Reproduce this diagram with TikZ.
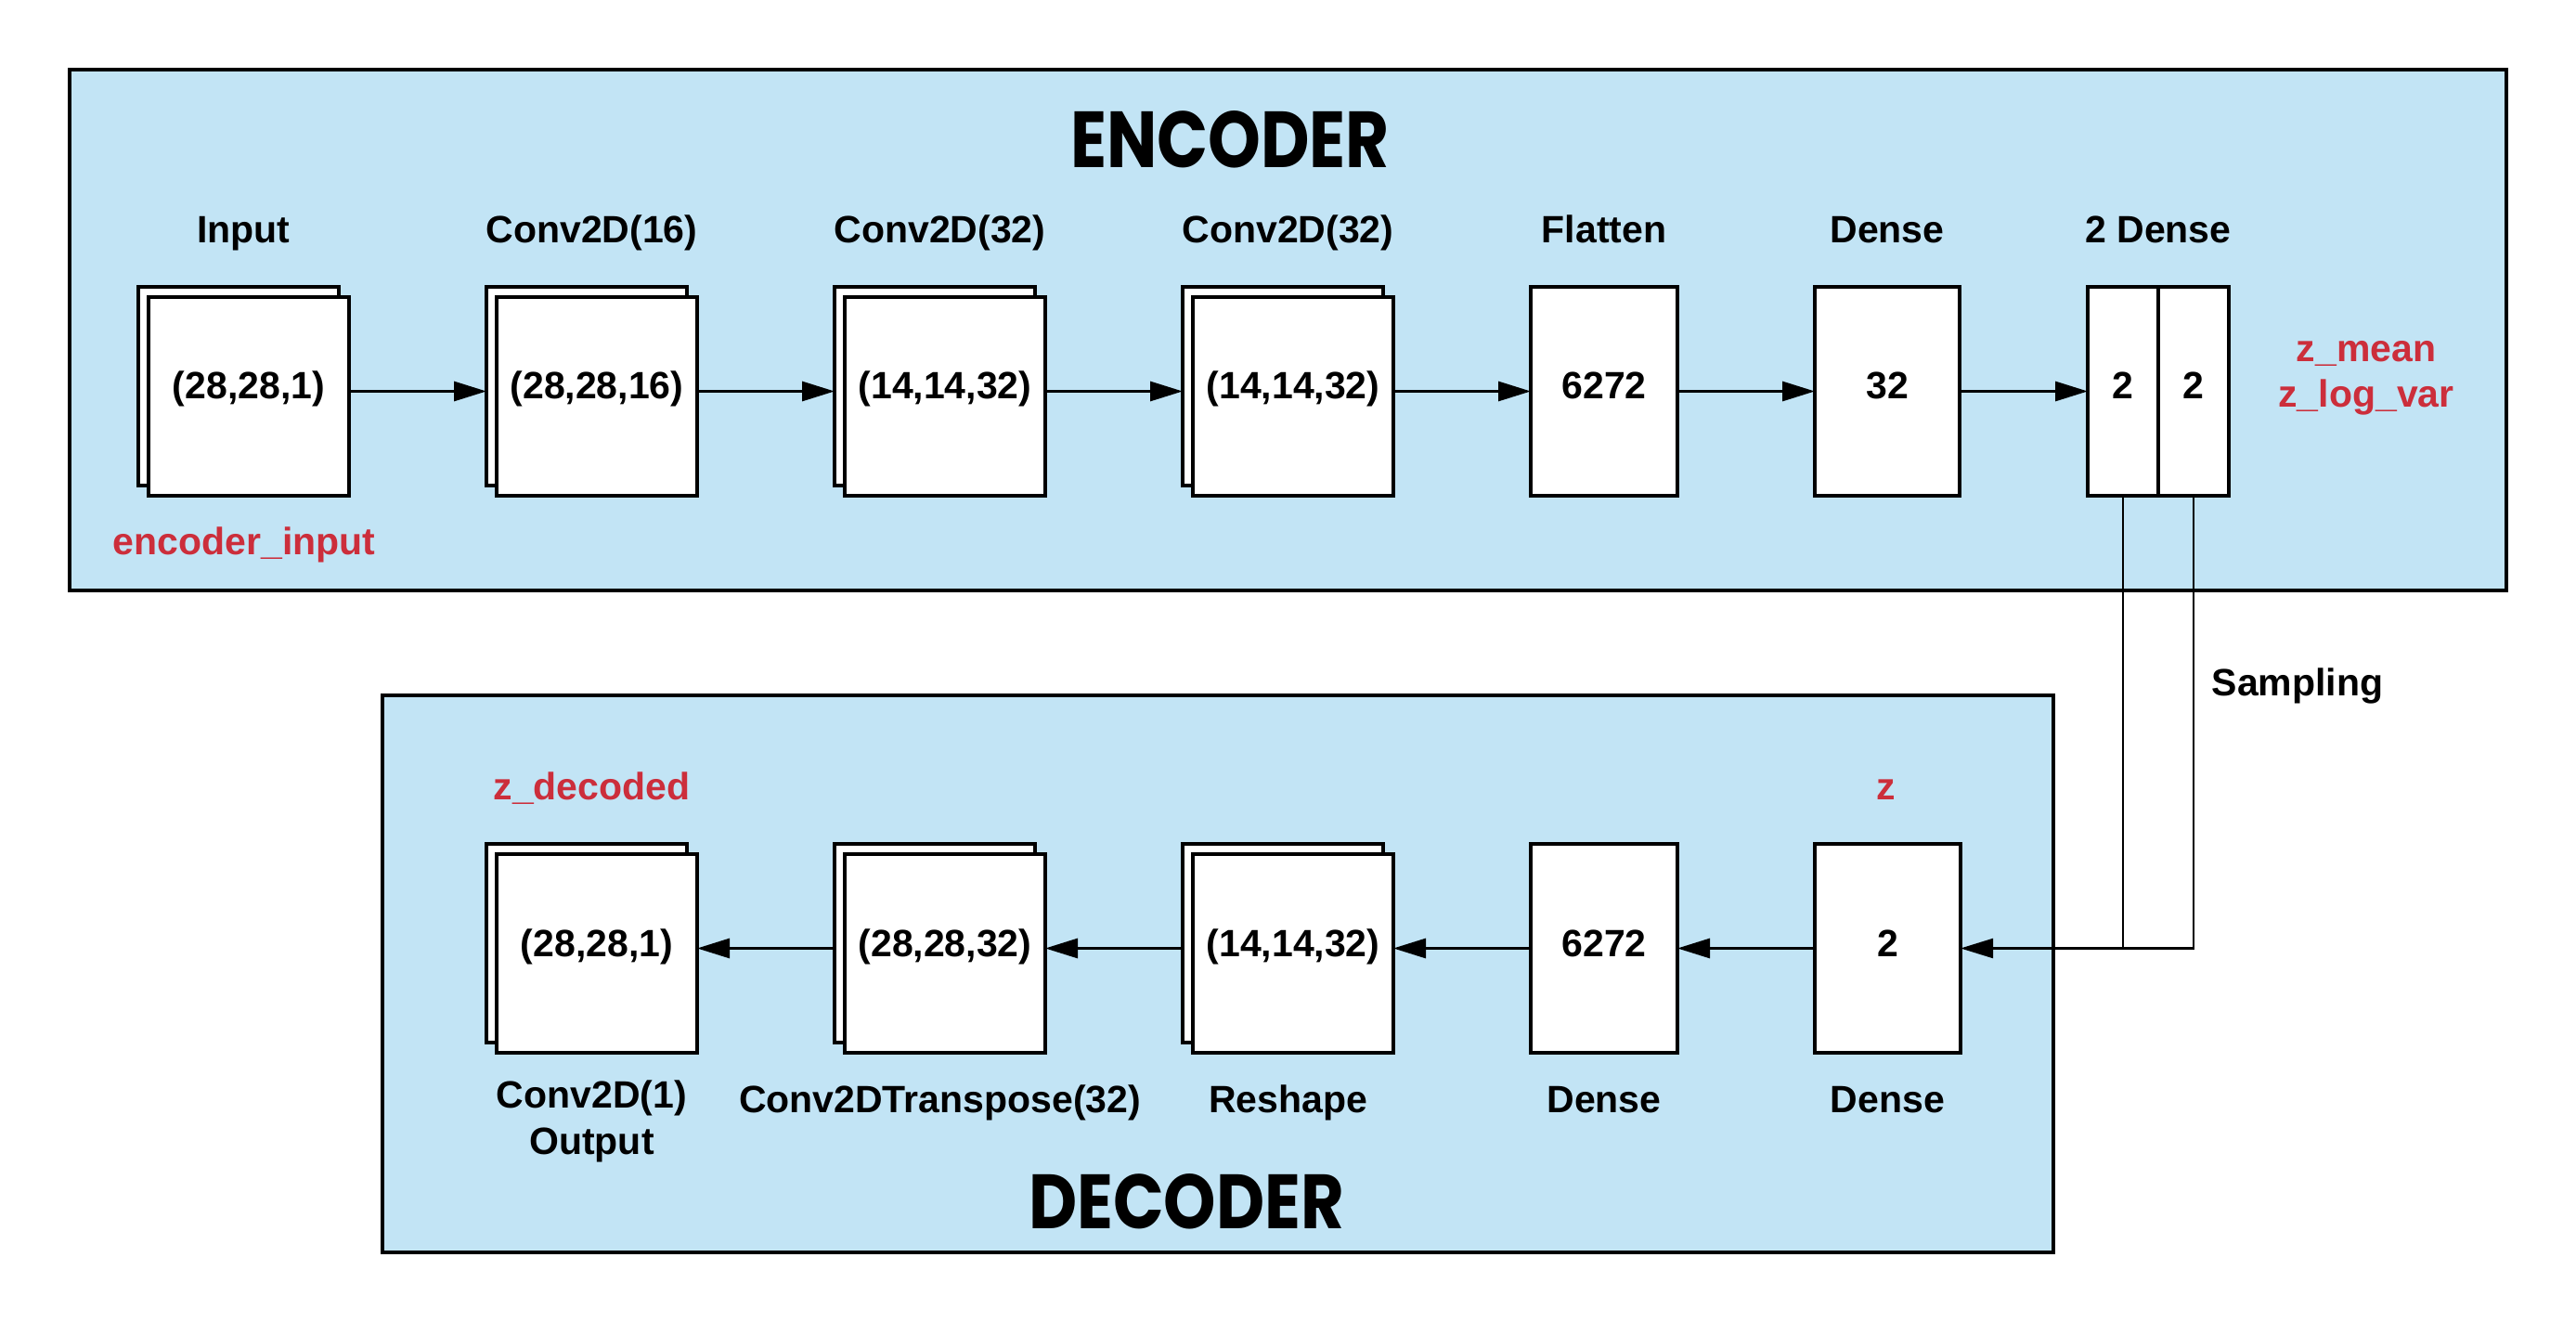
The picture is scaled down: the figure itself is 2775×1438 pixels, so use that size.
\documentclass[tikz,border=0pt]{standalone}
\usepackage{fontspec}
\usepackage{graphicx}
\setmainfont{Liberation Sans}
\newfontfamily\titlefont{Poppins}
\usetikzlibrary{arrows.meta}
\definecolor{panel}{HTML}{C2E4F5}
\definecolor{lbl}{HTML}{CC2E3B}
\begin{document}
\begin{tikzpicture}[x=0.5pt,y=-0.5pt,
  panelbox/.style={draw=black, fill=panel, line width=1.75pt},
  layer/.style={draw=black, fill=white, line width=1.75pt, inner sep=0pt, outer sep=0pt, minimum width=108pt, minimum height=107pt},
  single/.style={draw=black, fill=white, line width=1.75pt, inner sep=0pt, outer sep=0pt, minimum height=112.5pt},
  txt/.style={font=\fontsize{20.5pt}{24.6pt}\selectfont\bfseries, inner sep=0pt, outer sep=0pt, anchor=base},
  redtxt/.style={txt, text=lbl},
  titletxt/.style={inner sep=0pt, outer sep=0pt},
  flow/.style={line width=1.5pt, -{Triangle[length=17.5pt,width=10.5pt]}},
  samp/.style={line width=1.1pt},
]
\useasboundingbox (0,0) rectangle (2775,1438);

% panels
\draw[panelbox] (75,75) rectangle (2700,636);
\draw[panelbox] (412,749) rectangle (2212,1349);

% titles
\node[titletxt] (enc) at (1325,150.5) {\resizebox{172pt}{30.5pt}{\titlefont\bfseries ENCODER}};
\node[titletxt] (dec) at (1278,1294.5) {\resizebox{170pt}{29.5pt}{\titlefont\bfseries DECODER}};

\coordinate (eRow) at (0,421.5);
\coordinate (dRow) at (0,1021.5);

% encoder layers
\node[layer] (inB) at (257,416) {};
\node[layer] (inF) at (268,427) {};
\node[layer] (c16B) at (632,416) {};
\node[layer] (c16F) at (643,427) {};
\node[layer] (c32aB) at (1007,416) {};
\node[layer] (c32aF) at (1018,427) {};
\node[layer] (c32bB) at (1382,416) {};
\node[layer] (c32bF) at (1393,427) {};
\node[single, minimum width=79pt] (flat) at (1728,421.5) {};
\node[single, minimum width=78pt] (dense) at (2033,421.5) {};
\node[single, minimum width=38pt] (zm) at (2287,421.5) {};
\node[single, minimum width=38pt] (zv) at (2363,421.5) {};

% encoder texts
\node[txt] (tin) at (262.5,262) {Input};
\node[txt] (t16) at (637.5,262) {Conv2D(16)};
\node[txt] (t32a) at (1012.5,262) {Conv2D(32)};
\node[txt] (t32b) at (1387.5,262) {Conv2D(32)};
\node[txt] (tfl) at (1728,262) {Flatten};
\node[txt] (tde) at (2033,262) {Dense};
\node[txt] (t2de) at (2325,262) {2 Dense};

\node[txt] (vin) at (268,430) {(28,28,1)};
\node[txt] (v16) at (643,430) {(28,28,16)};
\node[txt] (v32a) at (1018,430) {(14,14,32)};
\node[txt] (v32b) at (1393,430) {(14,14,32)};
\node[txt] (vfl) at (1728,430) {6272};
\node[txt] (vde) at (2033,430) {32};
\node[txt] (vzm) at (2287,430) {2};
\node[txt] (vzv) at (2363,430) {2};

\node[redtxt] (rin) at (263,598) {encoder\_input};
\node[redtxt] (rzm) at (2549,390) {z\_mean};
\node[redtxt] (rzv) at (2549,439) {z\_log\_var};

% decoder layers
\node[layer] (outB) at (632,1016) {};
\node[layer] (outF) at (643,1027) {};
\node[layer] (ctB) at (1007,1016) {};
\node[layer] (ctF) at (1018,1027) {};
\node[layer] (reB) at (1382,1016) {};
\node[layer] (reF) at (1393,1027) {};
\node[single, minimum width=79pt] (d6272) at (1728,1021.5) {};
\node[single, minimum width=78.5pt] (dz) at (2033.5,1021.5) {};

\node[txt] (vout) at (643,1030) {(28,28,1)};
\node[txt] (vct) at (1018,1030) {(28,28,32)};
\node[txt] (vre) at (1393,1030) {(14,14,32)};
\node[txt] (vd6) at (1728,1030) {6272};
\node[txt] (vdz) at (2033.5,1030) {2};

\node[txt] (bout1) at (637.5,1193) {Conv2D(1)};
\node[txt] (bout2) at (637.5,1243) {Output};
\node[txt] (bct) at (1012.5,1198) {Conv2DTranspose(32)};
\node[txt] (bre) at (1387.5,1198) {Reshape};
\node[txt] (bd6) at (1728,1198) {Dense};
\node[txt] (bdz) at (2033.5,1198) {Dense};

\node[redtxt] (rzd) at (637.5,861) {z\_decoded};
\node[redtxt] (rz) at (2032,861) {z};

\node[txt] (samptxt) at (2475,749) {Sampling};

% encoder arrows
\draw[flow] (inF.east |- eRow) -- (c16B.west |- eRow);
\draw[flow] (c16F.east |- eRow) -- (c32aB.west |- eRow);
\draw[flow] (c32aF.east |- eRow) -- (c32bB.west |- eRow);
\draw[flow] (c32bF.east |- eRow) -- (flat.west);
\draw[flow] (flat.east) -- (dense.west);
\draw[flow] (dense.east) -- (zm.west);

% decoder arrows
\draw[flow] (dz.west) -- (d6272.east);
\draw[flow] (d6272.west) -- (reF.east |- dRow);
\draw[flow] (reB.west |- dRow) -- (ctF.east |- dRow);
\draw[flow] (ctB.west |- dRow) -- (outF.east |- dRow);

% sampling
\draw[samp] (zm.south) -- (zm.south |- dRow);
\draw[samp, -{Triangle[length=17.5pt,width=10.5pt]}] (zv.south) |- (dz.east);
\end{tikzpicture}
\end{document}
